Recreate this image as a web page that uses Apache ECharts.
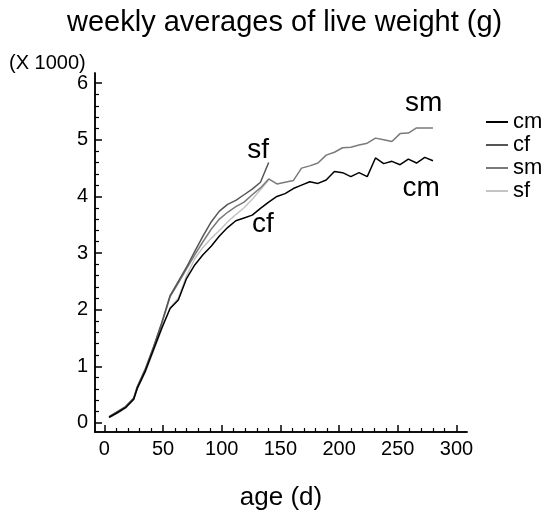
<!DOCTYPE html>
<html>
<head>
<meta charset="UTF-8">
<title>weekly averages of live weight</title>
<script src="https://cdn.jsdelivr.net/npm/echarts@6.0.0/dist/echarts.min.js"></script>
<style type="text/css">
body{margin:0;padding:0;background:#fff;}
#main{width:542px;height:517px;}
</style>
</head>
<body>
<div id="main"></div>
<script type="text/javascript">
// ages of weighing (d)
var ages = [4,11,18,25,28,35,42,49,56,63,70,77,84,91,98,105,112,119,126,133,140,
            147,154,161,168,175,182,189,196,203,210,217,224,231,238,245,252,259,266,273,280];
// live weight (g)
var cm = [100,180,270,420,610,920,1300,1680,2020,2170,2550,2790,2970,3120,3300,3450,3570,3620,3670,3790,3900,
          4000,4050,4140,4200,4260,4230,4290,4440,4420,4350,4420,4350,4680,4580,4620,4560,4660,4590,4690,4630];
var cf = [110,200,290,440,640,960,1350,1780,2250,2500,2750,3030,3300,3550,3740,3860,3930,4030,4130,4250,4600];
var sm = [100,190,280,430,630,950,1340,1760,2230,2470,2720,2970,3200,3420,3600,3720,3820,3900,4030,4150,4310,
          4220,4250,4280,4500,4540,4590,4730,4780,4860,4870,4910,4940,5030,5000,4970,5110,5120,5210,5210,5210];
var sf = [90,170,260,410,600,900,1280,1660,2040,2200,2600,2900,3100,3260,3400,3550,3680,3800,3950,4120,4290];

var xMajor = [0,50,100,150,200,250,300];
var yMajor = [0,1000,2000,3000,4000,5000,6000];

var xMinor = [], yMinor = [];
for (var i = 10; i <= 300; i += 10) { if (i % 50) xMinor.push(i); }
for (var j = 200; j <= 6000; j += 200) { if (j % 1000) yMinor.push(j); }

function pairs(vals) {
    return vals.map(function (v, k) { return [ages[k], v]; });
}

var font = 'Liberation Sans, Arial, sans-serif';
var myChart = echarts.init(document.getElementById('main'));

// text put next to a curve, in data units
function lineLabel(txt, x, y) {
    return {
        silent: true,
        symbol: 'circle',
        symbolSize: 1,
        itemStyle: {color: 'rgba(0,0,0,0)'},
        data: [{
            coord: [x, y],
            label: {show: true, position: 'inside', formatter: txt,
                    color: '#000', fontSize: 28, fontFamily: font}
        }]
    };
}

function axisBase(extra) {
    var o = {
        type: 'value',
        splitLine: {show: false},
        axisLine: {show: true, onZero: false, lineStyle: {color: '#000', width: 1.5}}
    };
    for (var k in extra) o[k] = extra[k];
    return o;
}

myChart.setOption({
    animation: false,
    backgroundColor: '#fff',
    title: {
        text: 'weekly averages of live weight (g)',
        left: 62,
        top: 3,
        textStyle: {fontSize: 29, fontWeight: 'normal', color: '#000', fontFamily: font}
    },
    legend: {
        orient: 'vertical',
        left: 481,
        top: 106,
        icon: 'rect',
        itemWidth: 22,
        itemHeight: 2,
        itemGap: 1,
        textStyle: {fontSize: 22, color: '#000', fontFamily: font},
        data: ['cm', 'cf', 'sm', 'sf']
    },
    grid: {left: 95, right: 75, top: 73, bottom: 85},
    graphic: [{
        type: 'text',
        left: 9,
        top: 53,
        style: {text: '(X 1000)', fontSize: 20, fill: '#000', fontFamily: font}
    }],
    xAxis: [
        axisBase({
            min: -8, max: 309,
            name: 'age (d)',
            nameLocation: 'middle',
            nameGap: 53,
            nameTextStyle: {fontSize: 26, color: '#000', fontFamily: font},
            axisTick: {inside: true, length: 7, customValues: xMajor, lineStyle: {color: '#000', width: 1.5}},
            axisLabel: {customValues: xMajor, fontSize: 20, color: '#000', margin: 7, fontFamily: font}
        }),
        axisBase({
            min: -8, max: 309,
            position: 'bottom',
            axisTick: {inside: true, length: 4, customValues: xMinor, lineStyle: {color: '#000', width: 1.2}},
            axisLabel: {show: false}
        })
    ],
    yAxis: [
        axisBase({
            min: -160, max: 6180,
            axisTick: {inside: true, length: 7, customValues: yMajor, lineStyle: {color: '#000', width: 1.5}},
            axisLabel: {customValues: yMajor, fontSize: 20, color: '#000', margin: 7, fontFamily: font,
                        formatter: function (v) { return v / 1000; }}
        }),
        axisBase({
            min: -160, max: 6180,
            position: 'left',
            axisTick: {inside: true, length: 4, customValues: yMinor, lineStyle: {color: '#000', width: 1.2}},
            axisLabel: {show: false}
        })
    ],
    series: [
        {name: 'sf', type: 'line', symbol: 'none', data: pairs(sf),
         lineStyle: {color: '#c4c4c4', width: 1.5}, itemStyle: {color: '#c4c4c4'},
         markPoint: lineLabel('sf', 131, 4820)},
        {name: 'sm', type: 'line', symbol: 'none', data: pairs(sm),
         lineStyle: {color: '#7a7a7a', width: 1.5}, itemStyle: {color: '#7a7a7a'},
         markPoint: lineLabel('sm', 272, 5640)},
        {name: 'cf', type: 'line', symbol: 'none', data: pairs(cf),
         lineStyle: {color: '#555555', width: 1.5}, itemStyle: {color: '#555555'},
         markPoint: lineLabel('cf', 135, 3500)},
        {name: 'cm', type: 'line', symbol: 'none', data: pairs(cm),
         lineStyle: {color: '#000000', width: 1.5}, itemStyle: {color: '#000000'},
         markPoint: lineLabel('cm', 270, 4150)}
    ]
});
</script>
</body>
</html>
